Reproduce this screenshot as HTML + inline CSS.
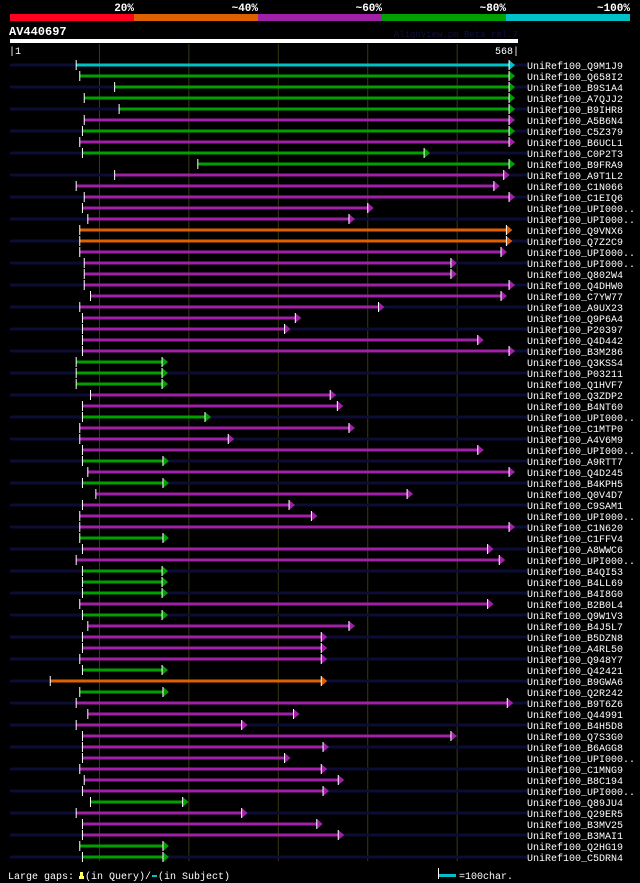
<!DOCTYPE html>
<html><head><meta charset="utf-8">
<style>
html,body{margin:0;padding:0;background:#000;}
svg{display:block;}
text{font-family:"Liberation Mono",monospace;}
</style></head>
<body>
<svg id="chart" width="640" height="883" viewBox="0 0 640 883" xmlns="http://www.w3.org/2000/svg">
<rect x="0" y="0" width="640" height="883" fill="#000"/>
<g>
<rect x="10" y="14" width="124" height="7" fill="#ff0020"/>
<rect x="134" y="14" width="124" height="7" fill="#e06000"/>
<rect x="258" y="14" width="124" height="7" fill="#a020a8"/>
<rect x="382" y="14" width="124" height="7" fill="#00a000"/>
<rect x="506" y="14" width="124" height="7" fill="#00c0c8"/>
<g font-size="11" font-weight="bold" fill="#fff" text-anchor="end">
<text x="134" y="11">20%</text><text x="258" y="11">~40%</text><text x="382" y="11">~60%</text><text x="506" y="11">~80%</text><text x="630" y="11">~100%</text>
</g>
</g>
<text x="9" y="35" font-size="12" font-weight="bold" fill="#fff">AV440697</text>
<text x="518" y="37" font-size="9" fill="#101040" text-anchor="end">AlignView.pm Beta rel.7</text>
<rect x="10" y="39" width="508" height="4" fill="#fff"/>
<text x="9" y="54" font-size="10" fill="#fff">|1</text>
<text x="519" y="54" font-size="10" fill="#fff" text-anchor="end">568|</text>
<g id="grid"></g>
<g id="rows"></g>
<g font-size="10" fill="#fff">
<text x="8" y="879">Large gaps:</text>
<rect x="80" y="872" width="3" height="4" fill="#ffff60"/><rect x="79" y="876" width="5" height="3" fill="#ffff60"/>
<text x="85" y="879">(in Query)/</text>
<rect x="152" y="875" width="5" height="2" fill="#00c0c8"/>
<text x="158" y="879">(in Subject)</text>
<rect x="438" y="868" width="1" height="11" fill="#fff"/>
<rect x="439" y="874" width="17" height="3" fill="#00c0c8"/>
<text x="459" y="879">=100char.</text>
</g>
</svg>
<script>
const queryLength = 568;
const names = ["Q9M1J9","Q658I2","B9S1A4","A7QJJ2","B9IHR8","A5B6N4","C5Z379","B6UCL1","C0P2T3","B9FRA9","A9T1L2","C1N066","C1EIQ6","UPI000..","UPI000..","Q9VNX6","Q7Z2C9","UPI000..","UPI000..","Q802W4","Q4DHW0","C7YW77","A9UX23","Q9P6A4","P20397","Q4D442","B3M286","Q3KSS4","P03211","Q1HVF7","Q3ZDP2","B4NT60","UPI000..","C1MTP0","A4V6M9","UPI000..","A9RTT7","Q4D245","B4KPH5","Q0V4D7","C9SAM1","UPI000..","C1N620","C1FFV4","A8WWC6","UPI000..","B4QI53","B4LL69","B4I8G0","B2B0L4","Q9W1V3","B4J5L7","B5DZN8","A4RL50","Q948Y7","Q42421","B9GWA6","Q2R242","B9T6Z6","Q44991","B4H5D8","Q7S3G0","B6AGG8","UPI000..","C1MNG9","B8C194","UPI000..","Q89JU4","Q29ER5","B3MV25","B3MAI1","Q2HG19","C5DRN4"];
const starts = [74,78,117,83,122,83,81,78,81,210,117,74,83,81,87,78,78,78,83,83,83,90,78,81,81,81,81,74,74,74,90,81,81,78,78,81,81,87,81,96,81,78,78,78,81,74,81,81,81,78,81,87,81,81,78,81,45,78,74,87,74,81,81,81,78,83,81,90,74,81,81,78,81];
const ends = [558,558,558,558,558,558,558,558,463,558,552,541,558,400,379,555,555,549,493,493,558,549,412,319,307,523,558,170,170,170,358,366,218,379,244,523,171,558,171,444,312,337,558,171,534,547,170,170,170,534,170,379,348,348,348,170,348,171,556,317,259,493,350,307,348,367,350,193,259,343,367,171,171];
const idClass = ["c","g","g","g","g","p","g","p","g","g","p","p","p","p","p","o","o","p","p","p","p","p","p","p","p","p","p","g","g","g","p","p","g","p","p","p","g","p","g","p","p","p","p","g","p","p","g","g","g","p","g","p","p","p","p","g","o","g","p","p","p","p","p","p","p","p","p","g","p","p","p","g","g"];
const colors = {c:"#00c0c8",g:"#00a000",p:"#a020a8",o:"#e06000"};
const gridTicks = [100,200,300,400,500];

const X0 = 10, X1 = 518;
function xScale(c){ return X0 + c*(X1-X0)/queryLength; }
function yScale(i){ return 65 + i*11; }
const NS = "http://www.w3.org/2000/svg";
function mk(tag, attrs, parent){ const e=document.createElementNS(NS,tag); for(const k in attrs) e.setAttribute(k,attrs[k]); parent.appendChild(e); return e; }

const grid = document.getElementById('grid');
gridTicks.forEach(t=>{
  const l = mk('line',{x1:xScale(t),x2:xScale(t),y1:44,y2:861,stroke:'#3a3a12','stroke-width':1},grid);
  
  
});

const rowsG = document.getElementById('rows');
names.forEach((n,i)=>{
  const y = yScale(i);
  const g = mk('g',{},rowsG);
  
  
  if(i%2===0){
    mk('rect',{x:10,y:y-1.5,width:517,height:3,fill:'#0c0c34'},g);
  }
  const sx = xScale(starts[i]), ex = xScale(ends[i]);
  const col = colors[idClass[i]];
  const bar = mk('rect',{x:sx,y:y-1.5,width:ex-sx,height:3,fill:col},g);
  
  
  mk('rect',{x:sx-0.5,y:y-5,width:1,height:10,fill:'#fff'},g);
  const ar = mk('polygon',{points:`${ex},${y-5} ${ex+6},${y} ${ex},${y+5}`,fill:col},g);
  
  
  mk('rect',{x:ex-0.5,y:y-5,width:1,height:10,fill:'#fff'},g);
  const t = mk('text',{x:527,y:y+4,'font-size':10,fill:'#fff'},g);
  t.textContent = 'UniRef100_'+n;
  
  
});
</script>
</body></html>
